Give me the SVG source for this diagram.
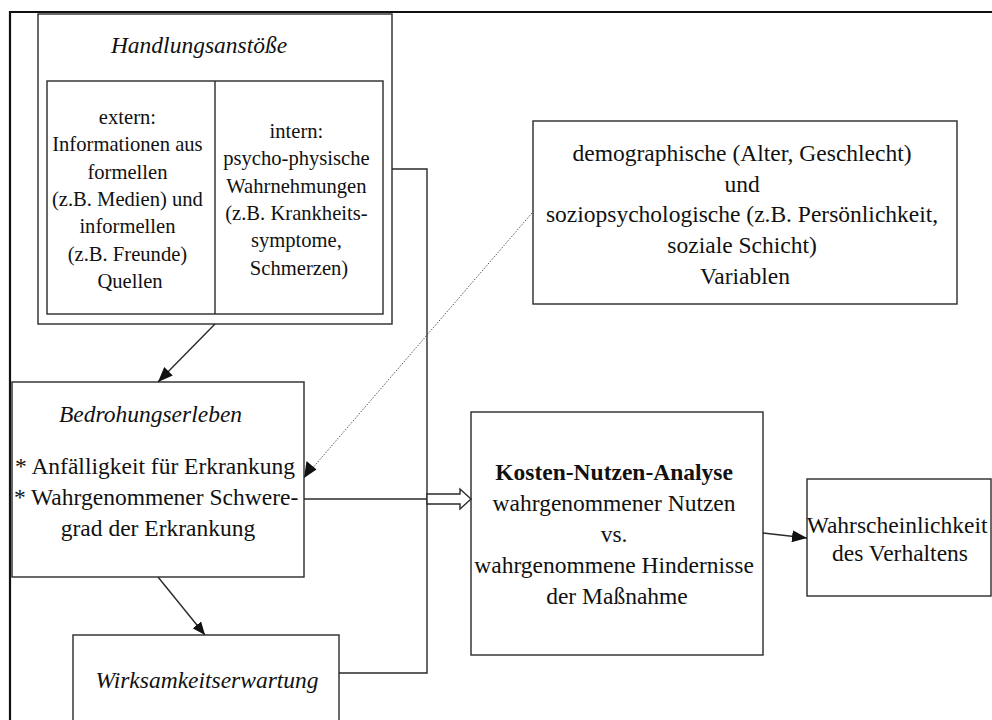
<svg xmlns="http://www.w3.org/2000/svg" width="992" height="720" viewBox="0 0 992 720">
  <style>
    .box { fill: #ffffff; stroke: #2a2a2a; stroke-width: 1.4; }
    .ln { fill: none; stroke: #2a2a2a; stroke-width: 1.4; }
    .frame { fill: none; stroke: #111111; stroke-width: 2.2; }
    .dot { fill: none; stroke: #555555; stroke-width: 1; stroke-dasharray: 1.5 1.5; }
    text { font-family: "Liberation Serif", "Times New Roman", serif; fill: #111111; text-anchor: middle; }
    .t { font-size: 23.5px; }
    .s { font-size: 20.6px; }
    .i { font-style: italic; }
    .b { font-weight: bold; }
  </style>
  <defs>
    <marker id="head" markerUnits="userSpaceOnUse" markerWidth="16" markerHeight="12" refX="15" refY="6" orient="auto">
      <path d="M0,0 L15,6 L0,12 Z" fill="#111111"/>
    </marker>
    <marker id="headS" markerUnits="userSpaceOnUse" markerWidth="14" markerHeight="11" refX="13" refY="5.5" orient="auto">
      <path d="M0,0 L13,5.5 L0,11 Z" fill="#111111"/>
    </marker>
  </defs>

  <rect width="992" height="720" fill="#ffffff"/>

  <!-- outer page frame -->
  <path class="frame" d="M10,721 V12 H993"/>

  <!-- Handlungsanstöße -->
  <g id="handlungsanstoesse">
    <rect class="box" x="38" y="14" width="354" height="310"/>
    <rect class="box" x="47" y="81" width="336" height="233"/>
    <line class="ln" x1="215" y1="81" x2="215" y2="314"/>
    <text class="t i" x="199" y="53">Handlungsanstöße</text>
    <text class="s" x="130">
      <tspan x="130" y="124">extern:</tspan>
      <tspan x="130" y="151.3">Informationen aus</tspan>
      <tspan x="130" y="178.6">formellen</tspan>
      <tspan x="130" y="205.9">(z.B. Medien) und</tspan>
      <tspan x="130" y="233.2">informellen</tspan>
      <tspan x="130" y="260.5">(z.B. Freunde)</tspan>
      <tspan x="130" y="287.8">Quellen</tspan>
    </text>
    <text class="s" x="299">
      <tspan x="299" y="138">intern:</tspan>
      <tspan x="299" y="165.3">psycho-physische</tspan>
      <tspan x="299" y="192.6">Wahrnehmungen</tspan>
      <tspan x="299" y="219.9">(z.B. Krankheits-</tspan>
      <tspan x="299" y="247.2">symptome,</tspan>
      <tspan x="299" y="274.5">Schmerzen)</tspan>
    </text>
  </g>

  <!-- demographische / soziopsychologische Variablen -->
  <g id="variablen">
    <rect class="box" x="533" y="121" width="424" height="183"/>
    <text class="t">
      <tspan x="745" y="161">demographische (Alter, Geschlecht)</tspan>
      <tspan x="745" y="191.7">und</tspan>
      <tspan x="745" y="222.4">soziopsychologische (z.B. Persönlichkeit,</tspan>
      <tspan x="745" y="253.1">soziale Schicht)</tspan>
      <tspan x="745" y="283.8">Variablen</tspan>
    </text>
  </g>

  <!-- Bedrohungserleben -->
  <g id="bedrohungserleben">
    <rect class="box" x="12" y="382" width="292" height="195"/>
    <text class="t i" x="150.5" y="422">Bedrohungserleben</text>
    <text class="t">
      <tspan x="158" y="474">* Anfälligkeit für Erkrankung</tspan>
      <tspan x="159" y="505">* Wahrgenommener Schwere-</tspan>
      <tspan x="158" y="536">grad der Erkrankung</tspan>
    </text>
  </g>

  <!-- Wirksamkeitserwartung -->
  <g id="wirksamkeitserwartung">
    <rect class="box" x="73" y="635" width="266" height="100"/>
    <text class="t i" x="207" y="688">Wirksamkeitserwartung</text>
  </g>

  <!-- Kosten-Nutzen-Analyse -->
  <g id="kosten-nutzen">
    <rect class="box" x="471" y="412" width="292" height="243"/>
    <text class="t">
      <tspan class="b" x="617" y="480">Kosten-Nutzen-Analyse</tspan>
      <tspan x="617" y="511">wahrgenommener Nutzen</tspan>
      <tspan x="617" y="542">vs.</tspan>
      <tspan x="617" y="573">wahrgenommene Hindernisse</tspan>
      <tspan x="617" y="604">der Maßnahme</tspan>
    </text>
  </g>

  <!-- Wahrscheinlichkeit des Verhaltens -->
  <g id="wahrscheinlichkeit">
    <rect class="box" x="807" y="479" width="184" height="117"/>
    <text class="t">
      <tspan x="900" y="533">Wahrscheinlichkeit</tspan>
      <tspan x="900" y="561">des Verhaltens</tspan>
    </text>
  </g>

  <!-- connectors -->
  <g id="connectors">
    <path class="ln" d="M392,169 H427 V673 H339"/>
    <path class="ln" d="M304,499 H427"/>
    <polygon class="box" points="427,494 460,494 460,489 471,499 460,509 460,504 427,504"/>
    <line class="ln" x1="215" y1="324" x2="158" y2="382" marker-end="url(#head)"/>
    <line class="ln" x1="158" y1="577" x2="205" y2="635" marker-end="url(#headS)"/>
    <line class="ln" x1="763" y1="533" x2="807" y2="538" marker-end="url(#head)"/>
    <line class="dot" x1="532" y1="213" x2="304" y2="478"/>
    <path d="M304,478 L306.5,461 L316.5,469.5 Z" fill="#111111"/>
  </g>
</svg>
